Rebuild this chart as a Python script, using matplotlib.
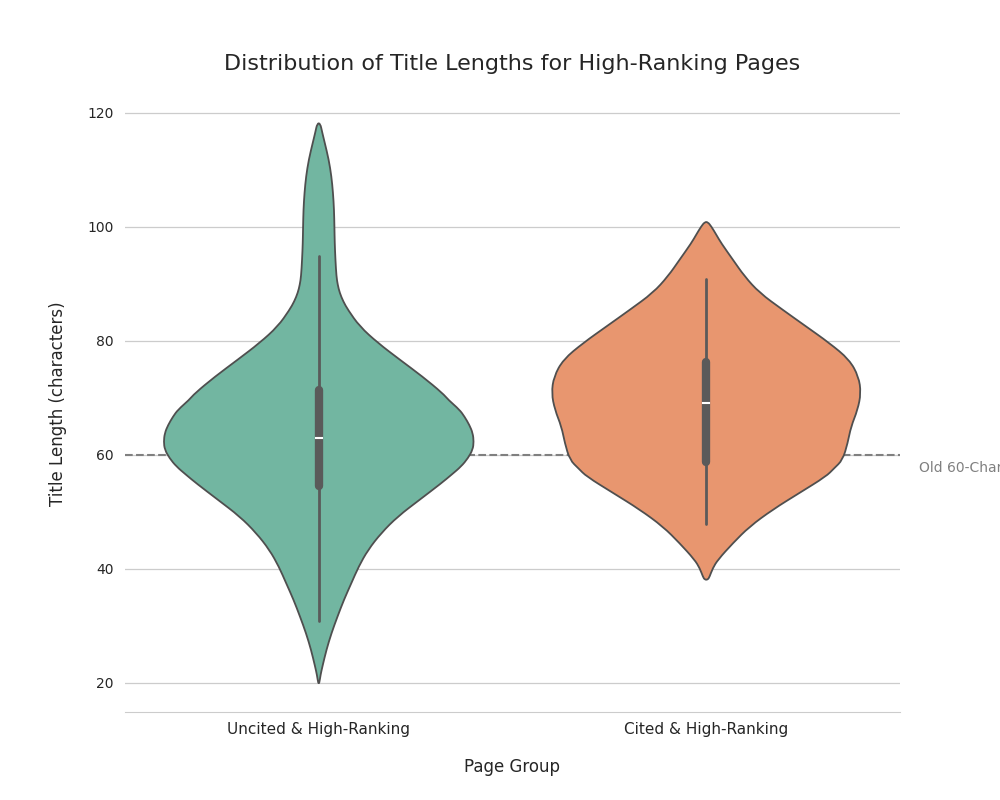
import numpy as np
import matplotlib.pyplot as plt
from matplotlib.path import Path
from matplotlib.patches import PathPatch

# =========================================================
# Data
# (title length, half-width as share of the widest point)
# =========================================================
groups = ["Uncited & High-Ranking", "Cited & High-Ranking"]

uncited_y = [118.1, 116.5, 114.7, 111.75, 108.8, 105.9, 103.0, 100.0, 97.1, 94.2,
             91.3, 89.8, 88.4, 86.9, 85.4, 82.5, 79.6, 76.7, 73.7, 70.8,
             69.6, 67.9, 66.7, 65.2, 63.8, 62.3, 60.9, 59.4, 57.95, 56.5,
             55.0, 52.1, 49.2, 46.3, 43.3, 40.4, 37.5, 34.6, 31.6, 28.7,
             25.8, 22.9, 21.4, 19.9]
uncited_w = [1.5, 3.5, 6, 10, 12.7, 14.3, 15.3, 15.7, 16, 16.7,
             17.7, 19, 21, 24.5, 29.3, 41, 59.3, 81, 104, 124,
             130, 141, 146, 151, 154.3, 155.3, 154.3, 149.5, 142.7, 133,
             122.7, 101, 79.3, 62.7, 49.3, 40, 32.7, 25.3, 18.7, 12.7,
             7.7, 3.7, 1.8, 0.5]

cited_y = [100.8, 100.05, 98.6, 97.1, 94.2, 91.3, 88.4, 85.4, 82.5, 79.6,
           76.7, 73.7, 70.8, 67.9, 64.9, 62.05, 59.1, 57.6, 56.2, 53.3,
           50.4, 47.4, 44.5, 41.6, 40.1, 38.6, 38.1]
cited_w = [1.5, 5, 10, 15, 26.7, 38.3, 53.3, 76.7, 100, 123.3,
           143.3, 152.7, 155, 151.7, 145, 141.7, 136.7, 128, 120, 93.3,
           66.7, 43.3, 26.7, 11.7, 6.5, 3.3, 1.5]

# box stats: whisker low, q1, median, q3, whisker high
uncited_box = [30.8, 54.6, 63.0, 71.4, 94.9]
cited_box = [47.8, 58.65, 69.0, 76.2, 90.8]

old_limit = 60

profiles = [(uncited_y, uncited_w, uncited_box), (cited_y, cited_w, cited_box)]
fill_colors = ["#72b6a1", "#e8966f"]


def smooth_outline(points):
    # closed quadratic b-spline path through the outline control points
    pts = np.asarray(points)
    n = len(pts)
    mids = (pts + np.roll(pts, -1, axis=0)) / 2
    verts = [mids[-1]]
    codes = [Path.MOVETO]
    for i in range(n):
        verts += [pts[i], mids[i]]
        codes += [Path.CURVE3, Path.CURVE3]
    verts.append(mids[-1])
    codes.append(Path.CLOSEPOLY)
    return Path(verts, codes)


# =========================================================
# Plot
# =========================================================
fig, ax = plt.subplots(figsize=(10, 8), dpi=100)

half_width = 0.4
for pos, ((ys, ws, box), color) in enumerate(zip(profiles, fill_colors)):
    ys = np.array(ys)
    ws = np.array(ws) / 155.3 * half_width
    right = np.column_stack([pos + ws, ys])
    left = np.column_stack([pos - ws, ys])[::-1]
    outline = smooth_outline(np.vstack([right, left]))
    ax.add_patch(PathPatch(outline, facecolor=color, edgecolor="#4f4f4f",
                           linewidth=1.3, zorder=2))
    lo, q1, med, q3, hi = box
    ax.plot([pos, pos], [lo, hi], color="#5a5a5a", linewidth=2,
            solid_capstyle="round", zorder=3)
    ax.plot([pos, pos], [q1, q3], color="#5a5a5a", linewidth=6,
            solid_capstyle="round", zorder=3)
    ax.plot([pos - 0.008, pos + 0.008], [med, med], color="white",
            linewidth=1.5, zorder=4)

ax.axhline(old_limit, color="gray", linestyle="--", linewidth=1.5, zorder=1.5)
ax.text(1.55, old_limit - 2.3, "Old 60-Char Limit", color="gray", fontsize=10,
        va="center", ha="left", clip_on=False)

ax.set_xlim(-0.5, 1.5)
ax.set_ylim(14.9, 122.9)
ax.set_xticks([0, 1])
ax.set_xticklabels(groups, fontsize=11, color="#262626")
ax.set_yticks([20, 40, 60, 80, 100, 120])
ax.tick_params(axis="y", labelsize=10, colors="#262626", length=0, pad=8)
ax.tick_params(axis="x", length=0, pad=7)

ax.grid(axis="y", color="#cccccc", linewidth=0.9, zorder=0)
ax.set_axisbelow(True)
for side in ["left", "right", "top"]:
    ax.spines[side].set_visible(False)
ax.spines["bottom"].set_color("#cccccc")

ax.set_title("Distribution of Title Lengths for High-Ranking Pages",
             fontsize=16, color="#262626", pad=19)
ax.set_xlabel("Page Group", fontsize=12, color="#262626", labelpad=15)
ax.set_ylabel("Title Length (characters)", fontsize=12, color="#262626",
              labelpad=15)

plt.savefig("out.png", dpi=100)
